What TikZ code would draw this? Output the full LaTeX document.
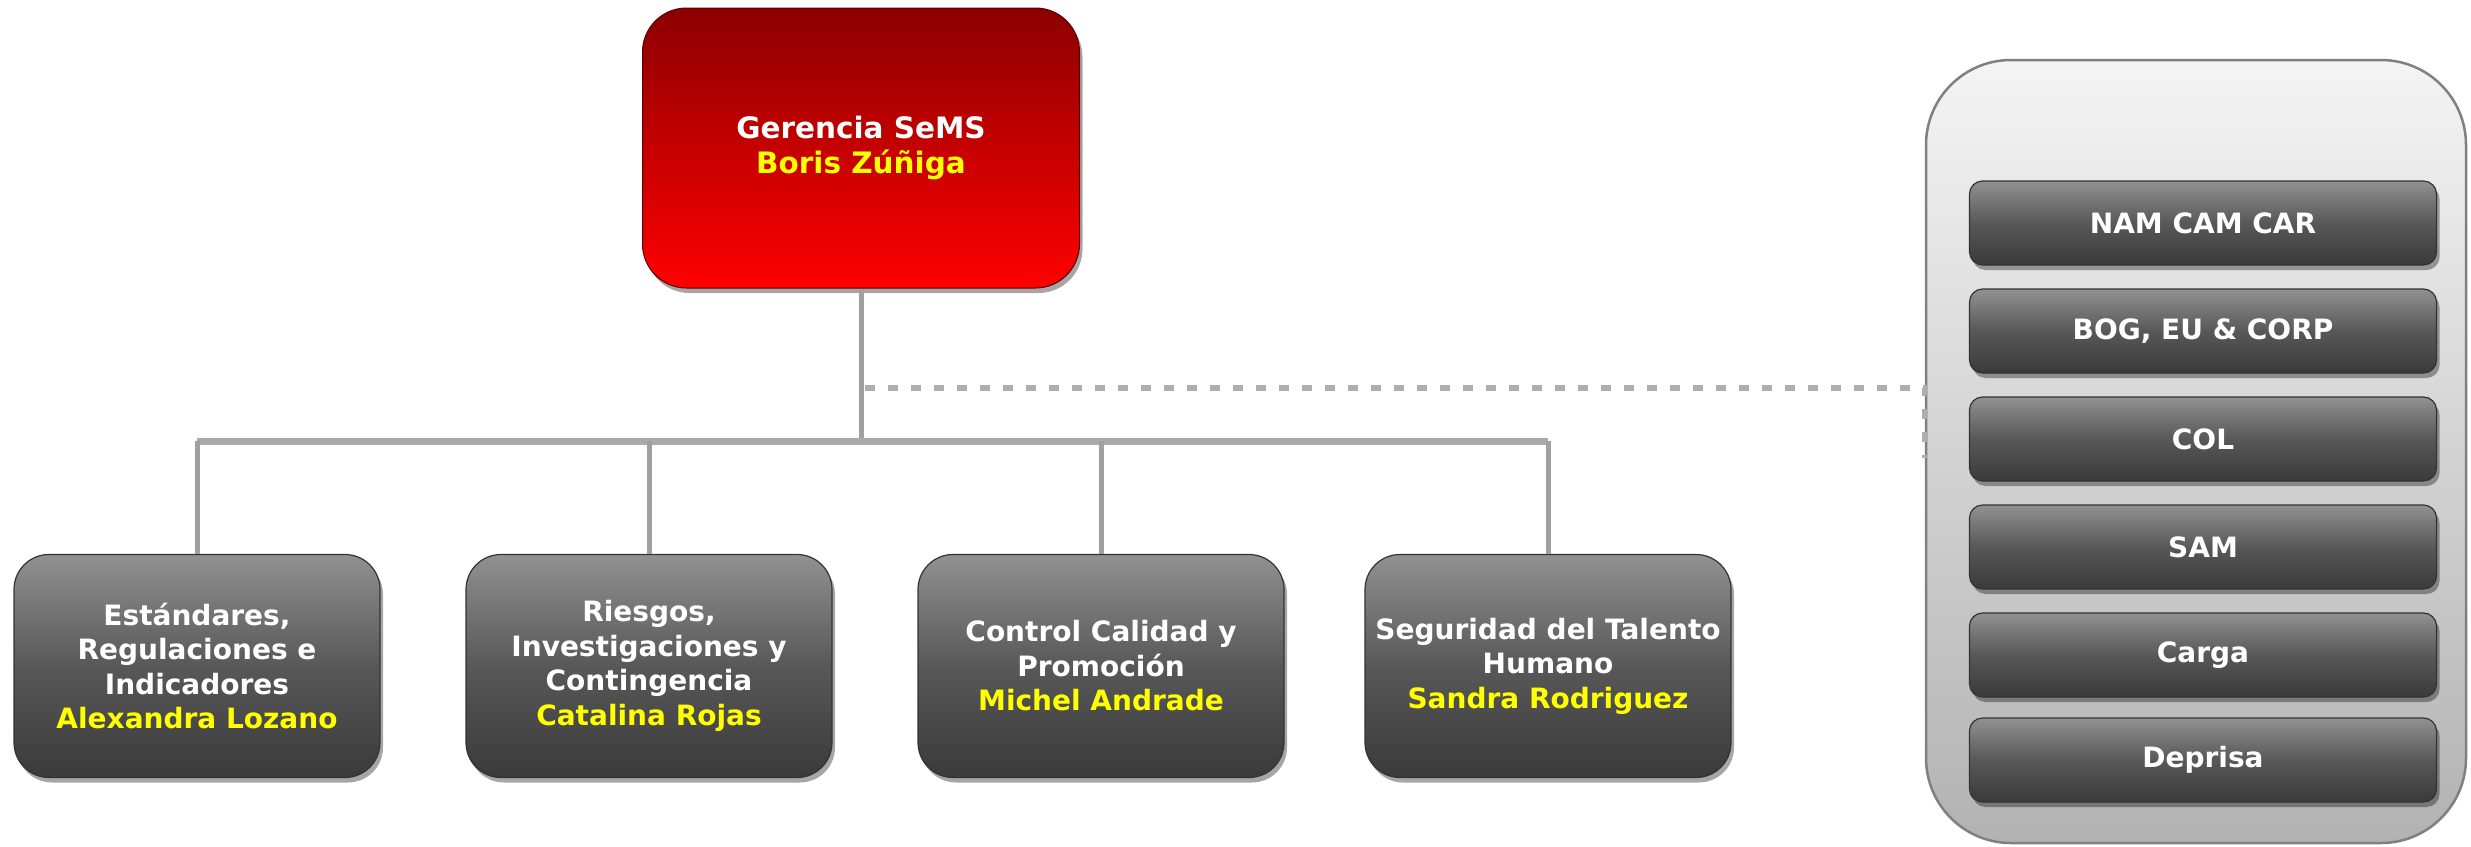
\documentclass[tikz,border=0pt]{standalone}
\usepackage{fontspec}
\setmainfont{DejaVu Sans}
\usetikzlibrary{shadows}
\definecolor{redtop}{RGB}{140,0,0}
\definecolor{redbot}{RGB}{255,0,0}
\definecolor{gtop}{RGB}{145,145,145}
\definecolor{gmid}{RGB}{88,88,88}
\definecolor{gbot}{RGB}{58,58,58}
\definecolor{conttop}{RGB}{244,244,244}
\definecolor{contbot}{RGB}{178,178,178}
\definecolor{yel}{RGB}{255,255,0}
\definecolor{conn}{RGB}{160,160,160}
\tikzset{
  boxshadow/.style={drop shadow={shadow xshift=3pt,shadow yshift=-5pt,opacity=0.35,fill=black}},
  topbox/.style={rounded corners=44pt, top color=redtop, bottom color=redbot,
    draw=red!35!black, line width=1pt, minimum width=437pt, minimum height=280pt,
    inner sep=0pt, align=center, text=white, font=\fontsize{29.5}{35}\selectfont\bfseries, boxshadow},
  unitbox/.style={rounded corners=35pt, top color=gtop, bottom color=gbot, middle color=gmid,
    draw=gray!40!black, line width=1.2pt, minimum width=366pt, minimum height=223pt,
    inner sep=0pt, align=center, text=white, font=\fontsize{28}{34.5}\selectfont\bfseries, boxshadow},
  regbox/.style={rounded corners=13pt, top color=gtop, bottom color=gbot, middle color=gmid,
    draw=gray!40!black, line width=1.2pt, minimum width=467pt, minimum height=84pt,
    inner sep=0pt, align=center, text=white, font=\fontsize{28}{34}\selectfont\bfseries, boxshadow},
  contbox/.style={rounded corners=85pt, top color=conttop, bottom color=contbot,
    draw=gray, line width=2.5pt, minimum width=540pt, minimum height=783pt, inner sep=0pt},
  link/.style={draw=conn, line width=5pt},
  buslink/.style={draw=conn!90, line width=7pt},
  dotlink/.style={draw=conn!85, line width=6pt, dash pattern=on 10pt off 13pt},
}
\begin{document}
\begin{tikzpicture}[x=1pt,y=-1pt]
\useasboundingbox (0,0) rectangle (2471,846);
\coordinate (busY) at (0,441);
\coordinate (dotY) at (0,388);

% container
\node[contbox] (cont) at (2196,451.5) {};

% top box
\node[topbox] (top) at (861,148) {Gerencia SeMS\\\textcolor{yel}{Boris Zúñiga}};

% unit boxes
\node[unitbox] (b1) at (197,666) {Estándares,\\Regulaciones e\\Indicadores\\\textcolor{yel}{Alexandra Lozano}};
\node[unitbox] (b2) at (649,666) {Riesgos,\\Investigaciones y\\Contingencia\\\textcolor{yel}{Catalina Rojas}};
\node[unitbox] (b3) at (1101,666) {Control Calidad y\\Promoción\\\textcolor{yel}{Michel Andrade}};
\node[unitbox] (b4) at (1548,666) {Seguridad del Talento\\Humano\\\textcolor{yel}{Sandra Rodriguez}};

% regional boxes
\node[regbox] (r1) at (2203,223) {NAM CAM CAR};
\node[regbox] (r2) at (2203,331) {BOG, EU \& CORP};
\node[regbox] (r3) at (2203,439) {COL};
\node[regbox] (r4) at (2203,547) {SAM};
\node[regbox] (r5) at (2203,655) {Carga};
\node[regbox] (r6) at (2203,760) {Deprisa};

% tree connectors
\draw[link] (top.south) -- (top.south |- busY);
\draw[buslink] (b1.north |- busY) -- (b4.north |- busY);
\foreach \b in {b1,b2,b3,b4}{
  \draw[link] (\b.north |- busY) -- (\b.north);
}
% dotted link to regional container
\coordinate (dstart) at ([xshift=4pt]top.south |- dotY);
\draw[dotlink] (dstart) -- (cont.west |- dotY) -- ++(0,70);
\end{tikzpicture}
\end{document}
